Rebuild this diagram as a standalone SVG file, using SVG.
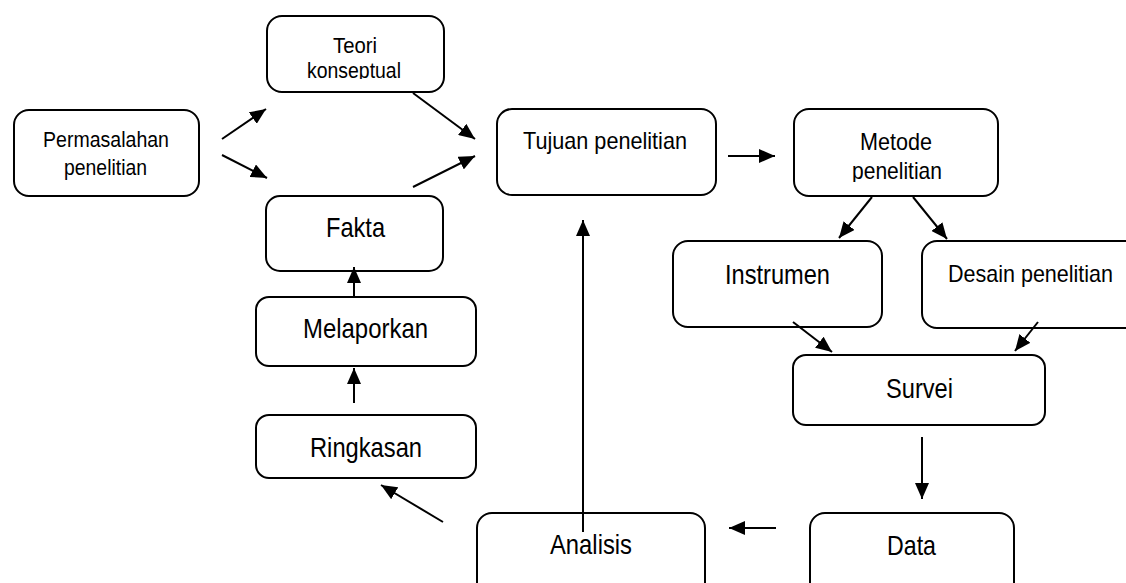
<svg xmlns="http://www.w3.org/2000/svg" width="1126" height="583" viewBox="0 0 1126 583">
<style>
.box{fill:#fff;stroke:#000;stroke-width:2}
.t{font-family:"Liberation Sans Narrow","Arial Narrow","Liberation Sans",Arial,sans-serif;fill:#000}
.s{font-size:22px}
.m{font-size:24px}
.b{font-size:28px}
.c line{stroke:#000;stroke-width:2;marker-end:url(#ah)}
</style>
<defs>
<marker id="ah" markerUnits="userSpaceOnUse" markerWidth="16" markerHeight="14" refX="16" refY="7" orient="auto" viewBox="0 0 16 14">
<path d="M0,0 L16,7 L0,14 z" fill="#000"/>
</marker>
<clipPath id="clipTeori"><rect x="260" y="10" width="190" height="69"/></clipPath>
<clipPath id="clipMetode"><rect x="780" y="100" width="230" height="82"/></clipPath>
</defs>
<rect width="1126" height="583" fill="#fff"/>

<g id="permasalahan">
<rect class="box" x="14" y="110" width="185" height="86" rx="15"/>
<text class="t s" x="43" y="147" textLength="126" lengthAdjust="spacingAndGlyphs">Permasalahan</text>
<text class="t s" x="64" y="175" textLength="83" lengthAdjust="spacingAndGlyphs">penelitian</text>
</g>

<g id="teori">
<rect class="box" x="267" y="16" width="177" height="76" rx="15"/>
<text class="t s" x="333" y="53" textLength="44" lengthAdjust="spacingAndGlyphs">Teori</text>
<text class="t s" x="307" y="78" textLength="94" lengthAdjust="spacingAndGlyphs" clip-path="url(#clipTeori)">konseptual</text>
</g>

<g id="tujuan">
<rect class="box" x="497" y="109" width="219" height="86" rx="15"/>
<text class="t m" x="523" y="149" textLength="164" lengthAdjust="spacingAndGlyphs">Tujuan penelitian</text>
</g>

<g id="metode">
<rect class="box" x="794" y="109" width="204" height="87" rx="15"/>
<text class="t m" x="860" y="150" textLength="72" lengthAdjust="spacingAndGlyphs">Metode</text>
<text class="t m" x="852" y="179" textLength="90" lengthAdjust="spacingAndGlyphs" clip-path="url(#clipMetode)">penelitian</text>
</g>

<g id="instrumen">
<rect class="box" x="673" y="241" width="209" height="86" rx="15"/>
<text class="t b" x="725" y="284" textLength="105" lengthAdjust="spacingAndGlyphs">Instrumen</text>
</g>

<g id="desain">
<rect class="box" x="922" y="241" width="230" height="87" rx="15"/>
<text class="t m" x="948" y="282" textLength="165" lengthAdjust="spacingAndGlyphs">Desain penelitian</text>
</g>

<g id="survei">
<rect class="box" x="793" y="355" width="252" height="70" rx="13"/>
<text class="t b" x="886" y="398" textLength="67" lengthAdjust="spacingAndGlyphs">Survei</text>
</g>

<g id="data">
<rect class="box" x="810" y="513" width="204" height="90" rx="15"/>
<text class="t b" x="887" y="555" textLength="49" lengthAdjust="spacingAndGlyphs">Data</text>
</g>

<g id="analisis">
<rect class="box" x="477" y="513" width="228" height="90" rx="15"/>
<text class="t b" x="550" y="554" textLength="82" lengthAdjust="spacingAndGlyphs">Analisis</text>
</g>

<g id="fakta">
<rect class="box" x="266" y="196" width="177" height="75" rx="14"/>
<text class="t b" x="326" y="237" textLength="59" lengthAdjust="spacingAndGlyphs">Fakta</text>
</g>

<g id="melaporkan">
<rect class="box" x="256" y="297" width="220" height="69" rx="13"/>
<text class="t b" x="303" y="338" textLength="125" lengthAdjust="spacingAndGlyphs">Melaporkan</text>
</g>

<g id="ringkasan">
<rect class="box" x="256" y="415" width="220" height="63" rx="13"/>
<text class="t b" x="310" y="457" textLength="112" lengthAdjust="spacingAndGlyphs">Ringkasan</text>
</g>

<g id="connectors" class="c">
<line x1="222" y1="139" x2="266" y2="109"/>
<line x1="222" y1="155" x2="267" y2="178"/>
<line x1="413" y1="93" x2="475" y2="139"/>
<line x1="413" y1="187" x2="475" y2="156"/>
<line x1="728" y1="156" x2="775" y2="156"/>
<line x1="872" y1="197" x2="839" y2="238"/>
<line x1="913" y1="197" x2="947" y2="239"/>
<line x1="793" y1="322" x2="832" y2="352"/>
<line x1="1038" y1="322" x2="1015" y2="351"/>
<line x1="922" y1="437" x2="922" y2="499"/>
<line x1="776" y1="528" x2="729" y2="528"/>
<line x1="583" y1="532" x2="583" y2="220"/>
<line x1="443" y1="522" x2="381" y2="485"/>
<line x1="354" y1="403" x2="354" y2="368"/>
<line x1="354" y1="297" x2="354" y2="267"/>
</g>
</svg>
